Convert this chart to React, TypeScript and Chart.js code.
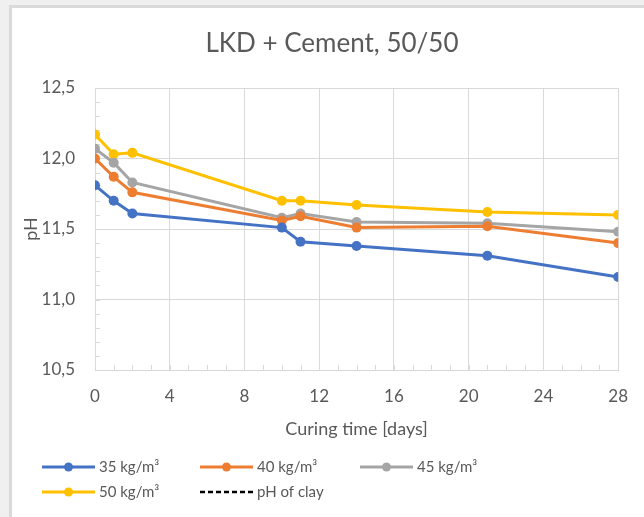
import React, { useEffect, useRef } from "react";
import { Chart, registerables } from "chart.js";

Chart.register(...registerables);

const chartTitle = "LKD + Cement, 50/50";
const xTitle = "Curing time [days]";
const yTitle = "pH";

const days = [0, 1, 2, 10, 11, 14, 21, 28];
const ph35 = [11.81, 11.7, 11.61, 11.51, 11.41, 11.38, 11.31, 11.16];
const ph40 = [12.0, 11.87, 11.76, 11.56, 11.59, 11.51, 11.52, 11.4];
const ph45 = [12.07, 11.97, 11.83, 11.58, 11.61, 11.55, 11.54, 11.48];
const ph50 = [12.17, 12.03, 12.04, 11.7, 11.7, 11.67, 11.62, 11.6];
const phClay: number[] = []; // lies outside the plotted pH range

const seriesLabels = ["35 kg/m³", "40 kg/m³", "45 kg/m³", "50 kg/m³", "pH of clay"];
const seriesColors = ["#4472C4", "#ED7D31", "#A5A5A5", "#FFC000", "#000000"];

const yMin = 10.5;
const yMax = 12.5;
const yStep = 0.5;
const yMinorStep = 0.1;
const xMin = 0;
const xMax = 28;
const xStep = 4;
const xMinorStep = 1;

const FONT = "Lato, 'Open Sans', sans-serif";
const TEXT = "#595959";
const GRID = "#d9d9d9";

export default function App() {
  const ref = useRef<HTMLCanvasElement>(null);

  useEffect(() => {
    document.body.style.margin = "0";
    document.body.style.background = "#f0f0f0";
    const canvas = ref.current;
    if (!canvas) return;

    const series = [ph35, ph40, ph45, ph50, phClay];
    const datasets = series.map((vals, i) => ({
      label: seriesLabels[i],
      data: vals.map((v, j) => ({ x: days[j], y: v })),
      borderColor: seriesColors[i],
      backgroundColor: seriesColors[i],
      borderWidth: 3,
      pointRadius: i === 4 ? 0 : 5,
      pointHoverRadius: 5,
      pointBorderWidth: 0,
      borderDash: i === 4 ? [5, 3] : [],
      tension: 0,
    }));

    const minorTicks = {
      id: "minorTicks",
      beforeDatasetsDraw(chart: any) {
        const { ctx, chartArea, scales } = chart;
        ctx.save();
        ctx.strokeStyle = GRID;
        ctx.lineWidth = 1;
        const ys = scales.y;
        const n = Math.round((yMax - yMin) / yMinorStep);
        for (let k = 0; k <= n; k++) {
          const v = yMin + k * yMinorStep;
          const py = Math.round(ys.getPixelForValue(v)) + 0.5;
          ctx.beginPath();
          ctx.moveTo(chartArea.left, py);
          ctx.lineTo(chartArea.left + 5, py);
          ctx.stroke();
        }
        const xs = scales.x;
        for (let v = xMin; v <= xMax; v += xMinorStep) {
          const px = Math.round(xs.getPixelForValue(v)) + 0.5;
          ctx.beginPath();
          ctx.moveTo(px, chartArea.bottom);
          ctx.lineTo(px, chartArea.bottom - 5);
          ctx.stroke();
        }
        ctx.restore();
      },
    };

    const titleAndLegend = {
      id: "titleAndLegend",
      afterDraw(chart: any) {
        const { ctx } = chart;
        ctx.save();
        ctx.fillStyle = TEXT;
        ctx.font = `26px ${FONT}`;
        ctx.textAlign = "center";
        ctx.textBaseline = "middle";
        ctx.fillText(chartTitle, 332, 44);

        const colX = [42, 200, 360];
        const rowY = [467, 492];
        const lineLen = 53;
        chart.data.datasets.forEach((ds: any, i: number) => {
          const x = colX[i % 3];
          const y = rowY[Math.floor(i / 3)];
          ctx.strokeStyle = ds.borderColor;
          ctx.lineWidth = i === 4 ? 2.5 : 3;
          ctx.setLineDash(ds.borderDash || []);
          ctx.beginPath();
          ctx.moveTo(x, y);
          ctx.lineTo(x + lineLen, y);
          ctx.stroke();
          ctx.setLineDash([]);
          if (ds.pointRadius > 0) {
            ctx.fillStyle = ds.backgroundColor;
            ctx.beginPath();
            ctx.arc(x + lineLen / 2, y, 4.5, 0, Math.PI * 2);
            ctx.fill();
          }
          ctx.fillStyle = TEXT;
          ctx.font = `15px ${FONT}`;
          ctx.textAlign = "left";
          ctx.textBaseline = "middle";
          ctx.fillText(ds.label, x + lineLen + 4, y);
        });
        ctx.restore();
      },
    };

    const chart = new Chart(canvas, {
      type: "line",
      data: { datasets },
      plugins: [minorTicks, titleAndLegend],
      options: {
        responsive: false,
        animation: false,
        layout: { padding: { left: 20, top: 88, right: 22, bottom: 77 } },
        plugins: {
          legend: { display: false },
          title: { display: false },
          tooltip: { enabled: false },
        },
        scales: {
          x: {
            type: "linear",
            min: xMin,
            max: xMax,
            afterFit: (s: any) => {
              s.height = 70;
            },
            ticks: {
              stepSize: xStep,
              color: TEXT,
              font: { family: FONT, size: 17 },
              padding: 16,
              maxRotation: 0,
            },
            grid: { color: GRID, lineWidth: 1, drawTicks: false },
            border: { color: GRID, width: 1 },
            title: {
              display: true,
              text: xTitle,
              color: TEXT,
              font: { family: FONT, size: 18 },
              padding: { top: 0, bottom: 0 },
            },
          },
          y: {
            type: "linear",
            min: yMin,
            max: yMax,
            afterFit: (s: any) => {
              s.width = 75;
            },
            ticks: {
              stepSize: yStep,
              color: TEXT,
              font: { family: FONT, size: 17 },
              padding: 20,
              callback: (v: any) => Number(v).toFixed(1).replace(".", ","),
            },
            grid: { color: GRID, lineWidth: 1, drawTicks: false },
            border: { color: GRID, width: 1 },
            title: {
              display: true,
              text: yTitle,
              color: TEXT,
              font: { family: FONT, size: 18 },
              padding: { top: 0, bottom: 0 },
            },
          },
        },
      },
    });

    return () => chart.destroy();
  }, []);

  return (
    <div style={{ position: "fixed", left: 0, top: 0, width: 644, height: 517, background: "#f0f0f0", overflow: "hidden" }}>
      <div
        style={{
          position: "absolute",
          left: 9,
          top: 5,
          width: 700,
          height: 600,
          background: "#ffffff",
          borderLeft: "3px solid #dadada",
          borderTop: "3px solid #dadada",
        }}
      />
      <canvas ref={ref} width={644} height={517} style={{ position: "absolute", left: 0, top: 0 }} />
    </div>
  );
}
